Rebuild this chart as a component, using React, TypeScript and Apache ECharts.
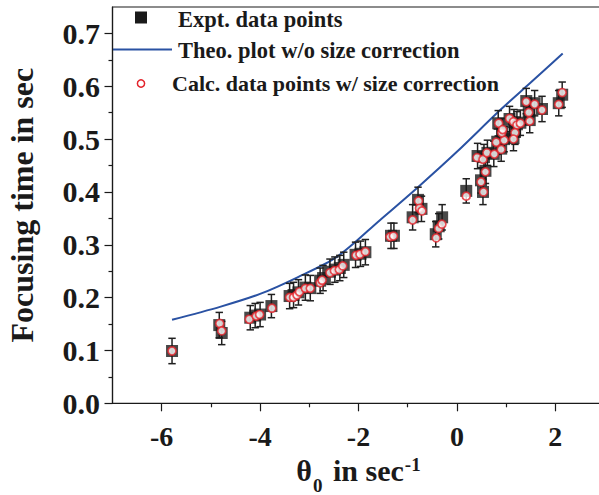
import React, { useEffect, useRef } from "react";
import * as echarts from "echarts";

// Experimental data points (x in sec^-1, focusing time in sec, error half-height)
const exptX = [-5.79, -4.83, -4.78, -4.2, -4.1, -4.0, -3.77, -3.4, -3.32, -3.22, -3.08, -2.98, -2.78, -2.72, -2.58, -2.48, -2.38, -2.3, -2.06, -1.96, -1.86, -1.34, -1.28, -0.9, -0.79, -0.72, -0.43, -0.37, -0.3, 0.19, 0.49, 0.53, 0.58, 0.42, 0.55, 0.62, 0.75, 0.82, 0.9, 0.96, 0.84, 0.92, 1.07, 1.16, 1.22, 1.29, 1.18, 1.15, 1.41, 1.46, 1.48, 1.58, 1.73, 2.07, 2.14];
const exptY = [0.099, 0.148, 0.133, 0.162, 0.166, 0.168, 0.184, 0.203, 0.205, 0.21, 0.219, 0.218, 0.232, 0.237, 0.249, 0.253, 0.256, 0.262, 0.281, 0.283, 0.286, 0.317, 0.317, 0.352, 0.385, 0.368, 0.32, 0.335, 0.352, 0.402, 0.422, 0.4, 0.44, 0.468, 0.466, 0.474, 0.472, 0.495, 0.482, 0.5, 0.53, 0.515, 0.538, 0.532, 0.528, 0.531, 0.514, 0.502, 0.572, 0.552, 0.536, 0.568, 0.557, 0.568, 0.584];
const exptErr = [0.024, 0.024, 0.022, 0.023, 0.023, 0.023, 0.022, 0.024, 0.024, 0.024, 0.024, 0.024, 0.024, 0.024, 0.024, 0.024, 0.024, 0.024, 0.024, 0.024, 0.024, 0.024, 0.024, 0.024, 0.024, 0.024, 0.024, 0.024, 0.024, 0.023, 0.024, 0.024, 0.024, 0.024, 0.024, 0.024, 0.024, 0.024, 0.024, 0.024, 0.024, 0.024, 0.024, 0.024, 0.024, 0.024, 0.024, 0.024, 0.024, 0.024, 0.024, 0.024, 0.024, 0.024, 0.024];

// Calculated data points with size correction
const calcX = [-5.79, -4.82, -4.78, -4.22, -4.08, -4.01, -3.76, -3.4, -3.32, -3.25, -3.2, -3.08, -2.98, -2.78, -2.74, -2.58, -2.49, -2.39, -2.32, -2.05, -1.97, -1.86, -1.36, -1.29, -0.9, -0.78, -0.76, -0.71, -0.42, -0.37, -0.305, 0.19, 0.54, 0.49, 0.58, 0.41, 0.53, 0.61, 0.76, 0.8, 0.9, 0.96, 0.85, 0.91, 0.93, 1.07, 1.15, 1.22, 1.29, 1.18, 1.15, 1.41, 1.46, 1.48, 1.58, 1.73, 2.07, 2.14];
const calcY = [0.099, 0.151, 0.137, 0.159, 0.165, 0.168, 0.18, 0.2005, 0.2005, 0.205, 0.211, 0.2175, 0.2175, 0.228, 0.233, 0.247, 0.251, 0.253, 0.26, 0.28, 0.282, 0.287, 0.315, 0.3165, 0.347, 0.383, 0.369, 0.364, 0.313, 0.331, 0.339, 0.392, 0.4, 0.419, 0.438, 0.465, 0.4616, 0.474, 0.4716, 0.494, 0.4805, 0.498, 0.53, 0.512, 0.518, 0.539, 0.533, 0.5265, 0.53, 0.512, 0.5, 0.5706, 0.5505, 0.534, 0.566, 0.555, 0.5657, 0.588];

// Theoretical plot without size correction
const theoX = [-5.79, -4.8, -4.0, -3.25, -2.44, -1.56, -0.78, 0.0, 0.88, 1.5, 2.15];
const theoY = [0.158, 0.183, 0.207, 0.238, 0.277, 0.347, 0.41, 0.476, 0.555, 0.607, 0.662];

// Axis ticks
const xMajorTicks = [-6, -4, -2, 0, 2];
const xMinorTicks = [-5, -3, -1, 1];
const yMajorTicks = [0, 0.1, 0.2, 0.3, 0.4, 0.5, 0.6, 0.7];
const yMinorTicks = [0.05, 0.15, 0.25, 0.35, 0.45, 0.55, 0.65];

const legendNames = [
  "Expt. data points",
  "Theo. plot w/o size correction",
  "Calc. data points w/ size correction",
];

const SERIF = "'Liberation Serif', 'Times New Roman', serif";
const INK = "#1a1a1a";
const BLUE = "#2a52a3";
const RED = "#e3232b";

export default function App() {
  const ref = useRef<HTMLDivElement>(null);

  useEffect(() => {
    if (!ref.current) return;
    const chart = echarts.init(ref.current, undefined, { renderer: "svg" });

    const errData = exptX.map((x, i) => [x, exptY[i], exptErr[i]]);
    const exptData = exptX.map((x, i) => [x, exptY[i]]);
    const calcData = calcX.map((x, i) => [x, calcY[i]]);
    const theoData = theoX.map((x, i) => [x, theoY[i]]);

    const option: any = {
      animation: false,
      backgroundColor: "#ffffff",
      grid: {
        left: 112.5,
        top: 7,
        width: 492,
        height: 396.3,
        show: true,
        borderColor: INK,
        borderWidth: 1.2,
        backgroundColor: "transparent",
        containLabel: false,
        outerBoundsMode: "none",
      },
      xAxis: [
        {
          type: "value",
          min: -7,
          max: 3,
          position: "bottom",
          axisLine: { show: true, onZero: false, lineStyle: { color: INK, width: 1.2 } },
          axisTick: {
            show: true,
            customValues: xMajorTicks,
            length: 8,
            inside: false,
            lineStyle: { color: INK, width: 1.2 },
          },
          axisLabel: {
            customValues: xMajorTicks,
            margin: 19,
            fontSize: 28,
            fontWeight: "bold",
            fontFamily: SERIF,
            color: INK,
            formatter: (v: number) => String(v),
          },
          splitLine: { show: false },
          name: "{a|θ}{b|0}{a| in sec}{c|-1}",
          nameLocation: "middle",
          nameGap: 50.5,
          nameTextStyle: {
            rich: {
              a: {
                fontSize: 30,
                fontWeight: "bold",
                fontFamily: SERIF,
                color: INK,
                lineHeight: 34,
                verticalAlign: "top",
              },
              b: {
                fontSize: 19,
                fontWeight: "bold",
                fontFamily: SERIF,
                color: INK,
                lineHeight: 19,
                padding: [21, 3, 0, 1],
                verticalAlign: "top",
              },
              c: {
                fontSize: 19,
                fontWeight: "bold",
                fontFamily: SERIF,
                color: INK,
                lineHeight: 17,
                padding: [0, 0, 0, 1],
                verticalAlign: "top",
              },
            },
          },
        },
        {
          type: "value",
          min: -7,
          max: 3,
          position: "bottom",
          axisLine: { show: false, onZero: false },
          axisTick: {
            show: true,
            customValues: xMinorTicks,
            length: 4,
            inside: false,
            lineStyle: { color: INK, width: 1.2 },
          },
          axisLabel: { show: false },
          splitLine: { show: false },
        },
      ],
      yAxis: [
        {
          type: "value",
          min: 0,
          max: 0.75,
          position: "left",
          axisLine: { show: true, onZero: false, lineStyle: { color: INK, width: 1.2 } },
          axisTick: {
            show: true,
            customValues: yMajorTicks,
            length: 8,
            inside: false,
            lineStyle: { color: INK, width: 1.2 },
          },
          axisLabel: {
            customValues: yMajorTicks,
            margin: 12.5,
            fontSize: 30,
            fontWeight: "bold",
            fontFamily: SERIF,
            color: INK,
            formatter: (v: number) => v.toFixed(1),
          },
          splitLine: { show: false },
          name: "Focusing time in sec",
          nameLocation: "middle",
          nameGap: 75,
          nameTextStyle: {
            fontSize: 32,
            fontWeight: "bold",
            fontFamily: SERIF,
            color: INK,
          },
        },
        {
          type: "value",
          min: 0,
          max: 0.75,
          position: "left",
          axisLine: { show: false, onZero: false },
          axisTick: {
            show: true,
            customValues: yMinorTicks,
            length: 4,
            inside: false,
            lineStyle: { color: INK, width: 1.2 },
          },
          axisLabel: { show: false },
          splitLine: { show: false },
        },
      ],
      series: [
        {
          name: legendNames[1],
          type: "line",
          data: theoData,
          smooth: 0.3,
          showSymbol: false,
          symbol: "none",
          lineStyle: { color: BLUE, width: 2 },
          z: 1,
        },
        {
          name: "error",
          type: "custom",
          data: errData,
          encode: { x: 0, y: 1 },
          renderItem: (_params: any, api: any) => {
            const x = api.value(0);
            const y = api.value(1);
            const e = api.value(2);
            const top = api.coord([x, y + e]);
            const bot = api.coord([x, y - e]);
            const hw = 3.7;
            const style = { stroke: "#202020", lineWidth: 1.5 };
            return {
              type: "group",
              children: [
                { type: "line", shape: { x1: top[0], y1: top[1], x2: bot[0], y2: bot[1] }, style },
                { type: "line", shape: { x1: top[0] - hw, y1: top[1], x2: top[0] + hw, y2: top[1] }, style },
                { type: "line", shape: { x1: bot[0] - hw, y1: bot[1], x2: bot[0] + hw, y2: bot[1] }, style },
              ],
            };
          },
          z: 2,
        },
        {
          name: legendNames[0],
          type: "scatter",
          data: exptData,
          symbol: "rect",
          symbolSize: 12,
          itemStyle: { color: INK },
          z: 3,
        },
        {
          name: legendNames[2],
          type: "scatter",
          data: calcData,
          symbol: "circle",
          symbolSize: 8,
          itemStyle: { color: "#ffffff", borderColor: RED, borderWidth: 1.7 },
          z: 4,
        },
      ],
      graphic: [
        { type: "rect", shape: { x: 135, y: 11.5, width: 12, height: 12 }, style: { fill: INK } },
        {
          type: "text",
          x: 178,
          y: 19,
          style: { text: legendNames[0], font: `bold 22.5px ${SERIF}`, fill: INK, verticalAlign: "middle" },
        },
        { type: "line", shape: { x1: 112, y1: 49.5, x2: 172, y2: 49.5 }, style: { stroke: BLUE, lineWidth: 2 } },
        {
          type: "text",
          x: 178,
          y: 50.5,
          style: { text: legendNames[1], font: `bold 22.5px ${SERIF}`, fill: INK, verticalAlign: "middle" },
        },
        { type: "circle", shape: { cx: 141, cy: 83.5, r: 3.6 }, style: { fill: "#ffffff", stroke: RED, lineWidth: 1.5 } },
        {
          type: "text",
          x: 172,
          y: 83,
          style: { text: legendNames[2], font: `bold 22px ${SERIF}`, fill: INK, verticalAlign: "middle" },
        },
      ],
    };

    chart.setOption(option);
    return () => chart.dispose();
  }, []);

  return (
    <div
      ref={ref}
      style={{ position: "fixed", left: 0, top: 0, width: 599, height: 495, background: "#fff" }}
    />
  );
}
